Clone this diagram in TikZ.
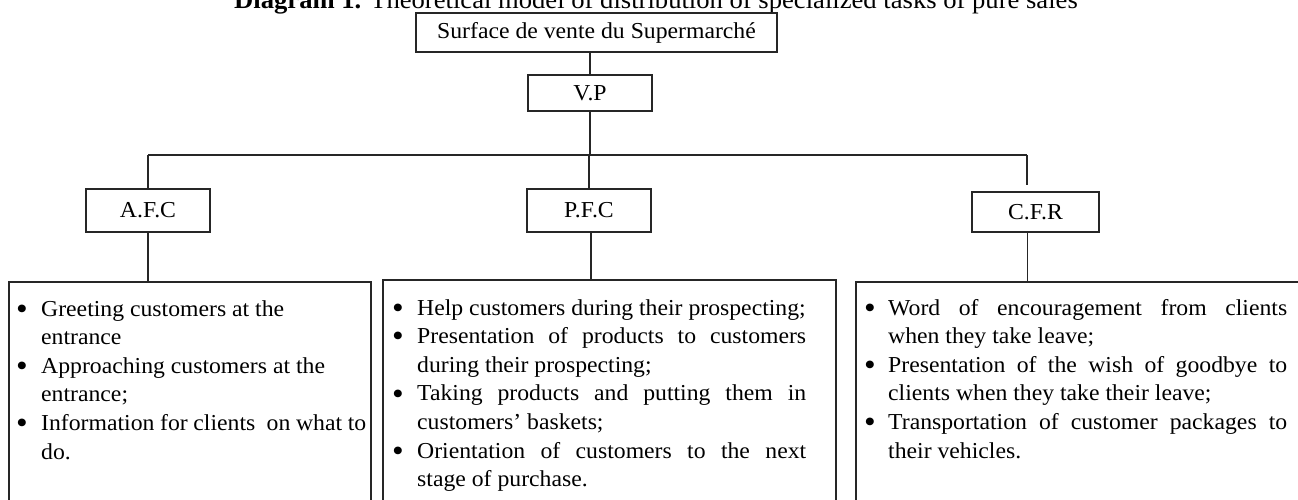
\documentclass[tikz,border=0pt]{standalone}
\usepackage{fontspec}
\setmainfont{Liberation Serif}[FakeStretch=1.04]
\newlength\bulw
\newcommand\bigbul{\raisebox{-3.2pt}{\fontsize{32}{32}\selectfont\textbullet}}
\newcommand\bitem[1]{\makebox[\bulw][l]{\bigbul}#1}
\newcommand\cont[1]{\hspace*{\bulw}#1}
\newcommand\jst[2]{\makebox[#1][s]{#2}}
\begin{document}
\begin{tikzpicture}[x=1pt,y=-1pt,
  txt/.style={font=\fontsize{22.8}{28.6}\selectfont, inner sep=0pt},
  lblbox/.style={draw=black!85, line width=1.4pt, inner sep=0pt, font=\fontsize{22.8}{28.6}\selectfont},
  listbox/.style={draw=black!85, line width=1.4pt, inner sep=0pt},
  conn/.style={draw=black!85, line width=1.4pt},
  listtxt/.style={txt, anchor=base west}
]
\useasboundingbox (0,0) rectangle (1298,500);

% title (partly cut at the top, as in the reference)
\node[font=\fontsize{25.6}{30}\selectfont, inner sep=0pt, anchor=base] (title) at (656,9)
  {\textbf{Diagram 1.} Theoretical model of distribution of specialized tasks of pure sales};

% hierarchy boxes
\node[lblbox, minimum width=361pt, minimum height=39pt] (top) at (596.5,32.5) {Surface de vente du Supermarché};
\node[lblbox, minimum width=124pt, minimum height=36pt] (vp) at (590,93) {V.P};
\node[lblbox, minimum width=124pt, minimum height=43pt] (afc) at (148,210.5) {A.F.C};
\node[lblbox, minimum width=124pt, minimum height=43pt] (pfc) at (589,210.5) {P.F.C};
\node[lblbox, minimum width=127pt, minimum height=40pt] (cfr) at (1035.5,212) {C.F.R};

% list boxes (run off the bottom / right edge)
\node[listbox, minimum width=362pt, minimum height=240pt] (b1) at (190,402) {};
\node[listbox, minimum width=453pt, minimum height=242pt] (b2) at (609.5,401) {};
\node[listbox, minimum width=480pt, minimum height=240pt] (b3) at (1096,402) {};

% connectors
\coordinate (bar) at (590,155);
\draw[conn] (top.south -| vp.north) -- (vp.north);
\draw[conn] (vp.south) -- (vp.south |- bar);
\draw[conn] (afc.north |- bar) -- ([xshift=-8.5pt]cfr.north |- bar);
\draw[conn] (afc.north |- bar) -- (afc.north);
\draw[conn] (pfc.north |- bar) -- (pfc.north);
\draw[conn] ([xshift=-8.5pt]cfr.north |- bar) -- ([xshift=-8.5pt,yshift=6pt]cfr.north);
\draw[conn] (afc.south) -- (afc.south |- b1.north);
\draw[conn] ([xshift=2pt]pfc.south) -- ([xshift=2pt]pfc.south |- b2.north);
\draw[conn] ([xshift=-8pt]cfr.south) -- ([xshift=-8pt]cfr.south |- b3.north);

% list texts
\setlength\bulw{25pt}
\node[listtxt] (t1) at (16,316) {\parbox[t]{350pt}{\baselineskip=28.6pt
\bitem{Greeting customers at the}\\
\cont{entrance}\\
\bitem{Approaching customers at the}\\
\cont{entrance;}\\
\bitem{Information for clients\ \ on what to}\\
\cont{do.}}};

\node[listtxt] (t2) at (392,315) {\parbox[t]{416pt}{\baselineskip=28.6pt
\bitem{Help customers during their prospecting;}\\
\bitem{\jst{389pt}{Presentation of products to customers}}\\
\cont{during their prospecting;}\\
\bitem{\jst{389pt}{Taking products and putting them in}}\\
\cont{customers' baskets;}\\
\bitem{\jst{389pt}{Orientation of customers to the next}}\\
\cont{stage of purchase.}}};

\node[listtxt] (t3) at (864,315) {\parbox[t]{425pt}{\baselineskip=28.6pt
\setlength\bulw{24pt}%
\bitem{\jst{399pt}{Word of encouragement from clients}}\\
\cont{when they take leave;}\\
\bitem{\jst{399pt}{Presentation of the wish of goodbye to}}\\
\cont{clients when they take their leave;}\\
\bitem{\jst{399pt}{Transportation of customer packages to}}\\
\cont{their vehicles.}}};
\end{tikzpicture}
\end{document}
